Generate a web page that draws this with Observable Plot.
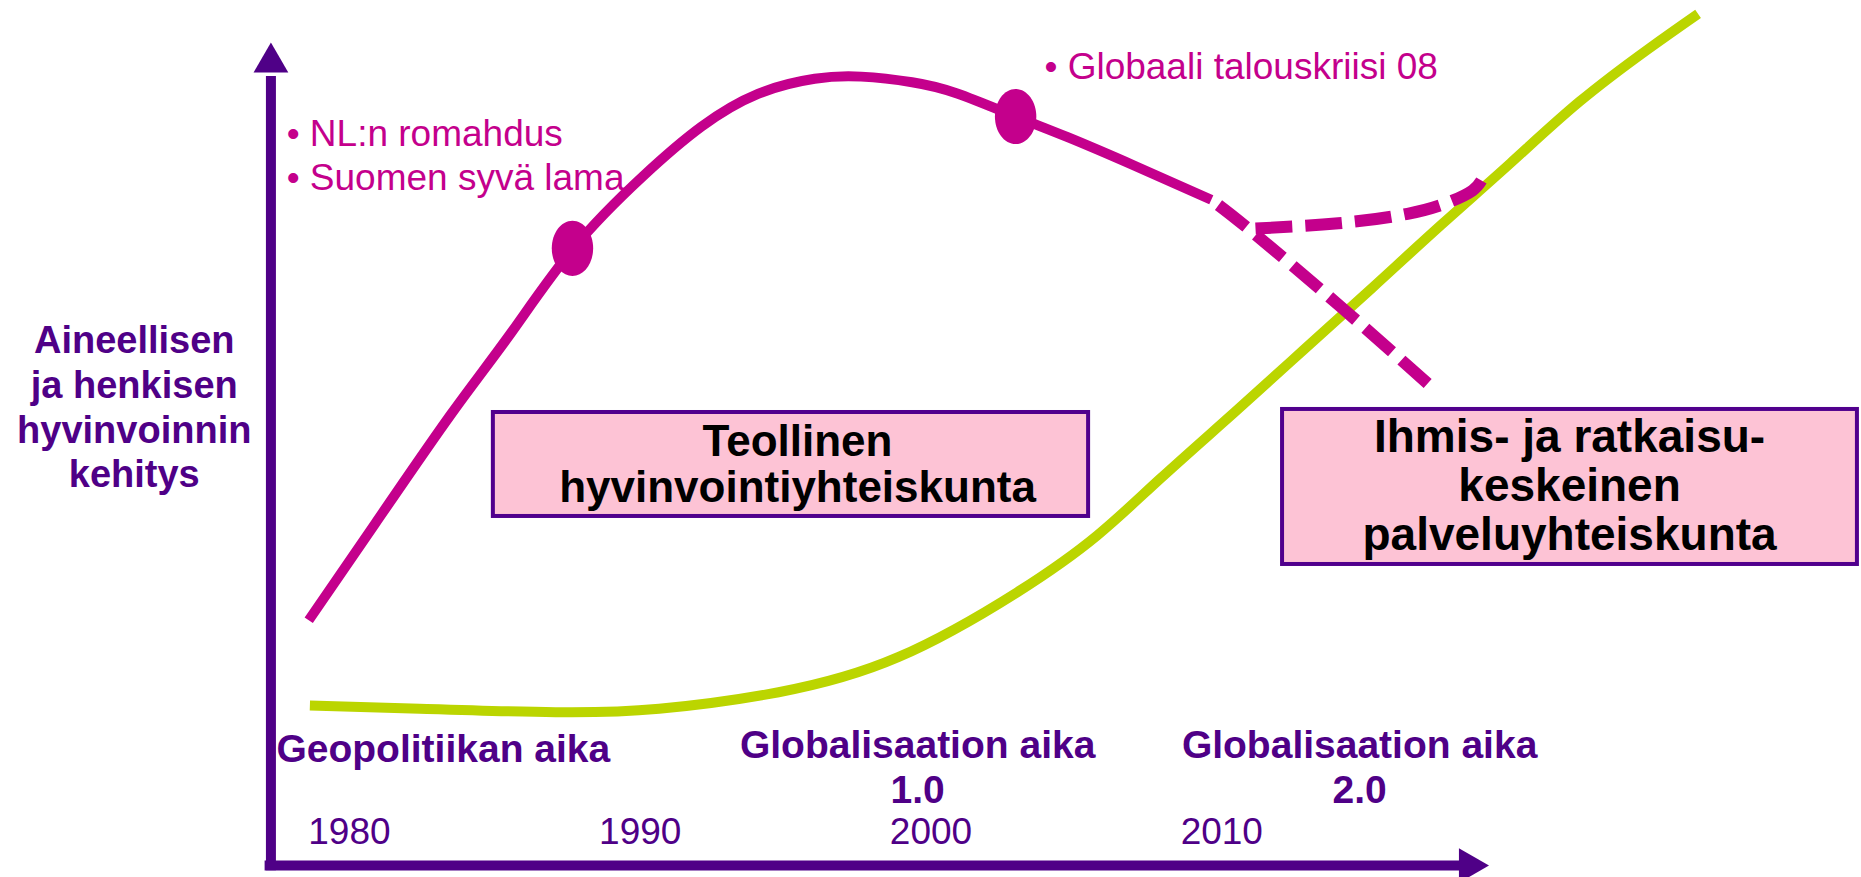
<!DOCTYPE html>
<html><head><meta charset="utf-8">
<script src="https://cdn.jsdelivr.net/npm/d3@7"></script>
<script src="https://cdn.jsdelivr.net/npm/@observablehq/plot@0.6"></script>
<style>
html,body{margin:0;padding:0;background:#ffffff;}
</style>
</head><body>
<div id="chart"></div>
<script>
// ---- data (x = year, y = wellbeing level 0–100) ----
const industrialYears  = [1978.6, 1980.9, 1983.5, 1985.5, 1987.7, 1990.1, 1992.1, 1994.05, 1996.0, 1997.6, 1999.35, 2000.9, 2002.9, 2004.7, 2007.0, 2009.64];
const industrialLevels = [28.35, 39.6, 52.2, 61.3, 71.35, 79.7, 85.4, 89.2, 90.95, 91.2, 90.55, 89.25, 86.6, 84.2, 80.9, 76.96];

const declineYears  = [2009.64, 2010.99, 2014.08, 2017.08];
const declineLevels = [76.96, 73.41, 64.62, 55.72];

const recoveryYears  = [2011.16, 2014.01, 2016.39, 2017.80, 2018.62, 2018.93];
const recoveryLevels = [73.64, 74.25, 75.34, 76.68, 78.03, 79.19];

const serviceYears  = [1978.64, 1982.42, 1987.09, 1990.65, 1994.76, 1998.87, 2002.97, 2005.73, 2007.89, 2010.44, 2012.81, 2015.18, 2017.56, 2019.93, 2022.30, 2024.67, 2026.38];
const serviceLevels = [18.5, 18.12, 17.72, 18.12, 20.03, 24.08, 31.6, 38.2, 44.74, 52.4, 59.6, 66.8, 74.1, 81.2, 88.3, 94.4, 98.46];

const eventYears  = [1987.67, 2002.91];
const eventLevels = [71.35, 86.59];

const yearTicks = [1980, 1990, 2000, 2010];

const yLabel = "Aineellisen\nja henkisen\nhyvinvoinnin\nkehitys";
const eventNotes = ["• NL:n romahdus\n• Suomen syvä lama", "• Globaali talouskriisi 08"];
const eraLabels = ["Geopolitiikan aika", "Globalisaation aika\n1.0", "Globalisaation aika\n2.0"];
const societyLabels = ["Teollinen\nhyvinvointiyhteiskunta", "Ihmis- ja ratkaisu-\nkeskeinen\npalveluyhteiskunta"];

// ---- build tables ----
const toRows = (xs, ys) => xs.map((x, i) => ({year: x, level: ys[i]}));
const industrial = toRows(industrialYears, industrialLevels);
const decline = toRows(declineYears, declineLevels);
const recovery = toRows(recoveryYears, recoveryLevels);
const service = toRows(serviceYears, serviceLevels);
const events = toRows(eventYears, eventLevels);

// ---- styles ----
const MAGENTA = "#C4008C";
const PURPLE = "#4F0087";
const GREEN = "#BBD500";
const PINK = "#FDC3D5";
const FONT = "'Liberation Sans', Arial, sans-serif";

const ellipse = {
  draw(context, size) {
    const ry = Math.sqrt(size / Math.PI), rx = ry * 0.75, k = 0.5523;
    context.moveTo(rx, 0);
    context.bezierCurveTo(rx, ry * k, rx * k, ry, 0, ry);
    context.bezierCurveTo(-rx * k, ry, -rx, ry * k, -rx, 0);
    context.bezierCurveTo(-rx, -ry * k, -rx * k, -ry, 0, -ry);
    context.bezierCurveTo(rx * k, -ry, rx, -ry * k, rx, 0);
    context.closePath();
  }
};

const chart = Plot.plot({
  width: 1861,
  height: 877,
  marginLeft: 0, marginRight: 0, marginTop: 0, marginBottom: 12,
  x: {domain: [1968, 2032], axis: null},
  y: {domain: [0, 100], axis: null},
  style: {fontFamily: FONT, background: "#ffffff", overflow: "visible"},
  marks: [
    // society boxes
    Plot.rect([0], {x1: () => 1984.95, x2: () => 2005.42, y1: () => 40.35, y2: () => 52.37, fill: PINK, stroke: "#51008D", strokeWidth: 4}),
    Plot.rect([0], {x1: () => 2012.09, x2: () => 2031.86, y1: () => 34.8, y2: () => 52.72, fill: PINK, stroke: "#51008D", strokeWidth: 4}),
    // service society curve
    Plot.line(service, {x: "year", y: "level", stroke: GREEN, strokeWidth: 10, curve: "natural", strokeLinecap: "butt"}),
    // industrial curve and scenarios
    Plot.line(industrial, {x: "year", y: "level", stroke: MAGENTA, strokeWidth: 10, curve: "natural", strokeLinecap: "butt"}),
    Plot.line(decline, {x: "year", y: "level", stroke: MAGENTA, strokeWidth: 12, curve: "natural", strokeLinecap: "butt", strokeDasharray: "34,12"}),
    Plot.line(recovery, {x: "year", y: "level", stroke: MAGENTA, strokeWidth: 12, curve: "natural", strokeLinecap: "butt", strokeDasharray: "34,12"}),
    Plot.dot(events, {x: "year", y: "level", r: 27.6, symbol: ellipse, fill: MAGENTA, stroke: "none"}),
    // axes
    Plot.ruleX([1977.3], {y1: -0.6, y2: 91.2, stroke: PURPLE, strokeWidth: 10}),
    Plot.dot([0], {x: () => 1977.3, y: () => 92.83, symbol: "triangle", r: 12.9, fill: PURPLE, stroke: "none"}),
    Plot.ruleY([0], {x1: 1977.1, x2: 2018.3, stroke: PURPLE, strokeWidth: 10}),
    Plot.dot([0], {x: () => 2018.5, y: () => 0, symbol: "triangle", r: 12.9, rotate: 90, fill: PURPLE, stroke: "none"}),
    // texts
    Plot.text([yLabel], {x: () => 1972.6, y: () => 43.7, text: d => d, fontSize: 38, fontWeight: "bold", fill: PURPLE, textAnchor: "middle", lineAnchor: "bottom", lineHeight: 1.176}),
    Plot.text([eventNotes[0]], {x: () => 1977.84, y: () => 78.09, text: d => d, fontSize: 37, fill: MAGENTA, textAnchor: "start", lineAnchor: "bottom", lineHeight: 1.19}),
    Plot.text([eventNotes[1]], {x: () => 2003.9, y: () => 90.95, text: d => d, fontSize: 37, fill: MAGENTA, textAnchor: "start", lineAnchor: "bottom"}),
    Plot.text([societyLabels[0]], {x: () => 1995.41, y: () => 42.0, text: d => d, fontSize: 44, fontWeight: "bold", fill: "#000000", textAnchor: "middle", lineAnchor: "bottom", lineHeight: 1.06}),
    Plot.text([societyLabels[1]], {x: () => 2021.96, y: () => 36.53, text: d => d, fontSize: 46, fontWeight: "bold", fill: "#000000", textAnchor: "middle", lineAnchor: "bottom", lineHeight: 1.065}),
    Plot.text([eraLabels[0]], {x: () => 1977.49, y: () => 12.0, text: d => d, fontSize: 39, fontWeight: "bold", fill: PURPLE, textAnchor: "start", lineAnchor: "bottom"}),
    Plot.text([eraLabels[1]], {x: () => 1999.54, y: () => 7.28, text: d => d, fontSize: 39, fontWeight: "bold", fill: PURPLE, textAnchor: "middle", lineAnchor: "bottom", lineHeight: 1.154}),
    Plot.text([eraLabels[2]], {x: () => 2014.74, y: () => 7.28, text: d => d, fontSize: 39, fontWeight: "bold", fill: PURPLE, textAnchor: "middle", lineAnchor: "bottom", lineHeight: 1.154}),
    Plot.text(yearTicks, {x: d => d, y: () => 2.54, text: d => String(d), fontSize: 37, fill: PURPLE, textAnchor: "middle", lineAnchor: "bottom"})
  ]
});
document.getElementById("chart").appendChild(chart);

// fit the dash pattern so each dashed branch ends on a whole dash
const dashedPaths = chart.querySelectorAll("g[stroke-dasharray] path");
function fitDashes(path, leadGap) {
  if (!path) return;
  const L = path.getTotalLength();
  if (!(L > 60)) return;
  const n = Math.max(1, Math.round((L - leadGap + 12) / 46));
  const u = (L - leadGap) / (n * 34 + (n - 1) * 12);
  const d = 34 * u, g = 12 * u;
  path.setAttribute("stroke-dasharray", `${d},${g}`);
  path.setAttribute("stroke-dashoffset", leadGap > 0 ? `${d + g - leadGap}` : "0");
}
fitDashes(dashedPaths[0], 9);
fitDashes(dashedPaths[1], 0);
</script>
</body></html>
